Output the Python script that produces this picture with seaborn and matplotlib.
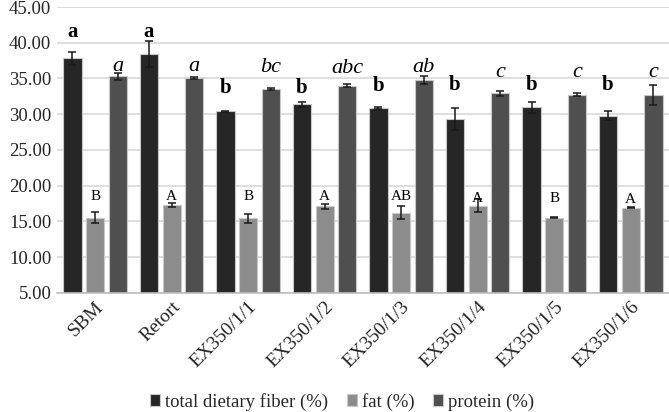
import matplotlib
matplotlib.use("Agg")
import matplotlib.pyplot as plt
from matplotlib import font_manager
import seaborn as sns
import pandas as pd

samples = ["SBM", "Retort", "EX350/1/1", "EX350/1/2", "EX350/1/3",
           "EX350/1/4", "EX350/1/5", "EX350/1/6"]
series = ["total dietary fiber (%)", "fat (%)", "protein (%)"]

fiber = [37.8, 38.45, 30.4, 31.4, 30.85, 29.35, 30.95, 29.8]
fiber_err = [0.9, 1.85, 0.1, 0.35, 0.1, 1.55, 0.8, 0.6]
fat = [15.55, 17.3, 15.45, 17.1, 16.2, 17.2, 15.55, 16.95]
fat_err = [0.8, 0.3, 0.6, 0.3, 0.9, 0.9, 0.05, 0.12]
protein = [35.3, 35.05, 33.55, 34.0, 34.75, 32.9, 32.7, 32.7]
protein_err = [0.5, 0.15, 0.1, 0.2, 0.55, 0.35, 0.2, 1.4]

fiber_letters = ["a", "a", "b", "b", "b", "b", "b", "b"]
fat_letters = ["B", "A", "B", "A", "AB", "A", "B", "A"]
protein_letters = ["a", "a", "bc", "abc", "ab", "c", "c", "c"]

# heights where the letters sit (data units)
fiber_lab_y = [41.45, 41.45, 33.6, 33.6, 33.9, 34.15, 34.15, 34.15]
fat_lab_y = [18.45, 18.5, 18.45, 18.5, 18.45, 18.2, 18.2, 18.05]
protein_lab_y = [36.7, 36.7, 36.5, 36.35, 36.6, 35.9, 35.9, 35.9]

df = pd.DataFrame({
    "sample": samples * 3,
    "series": [series[0]] * 8 + [series[1]] * 8 + [series[2]] * 8,
    "value": fiber + fat + protein,
})

sns.set_style("white")
names = sorted({f.name for f in font_manager.fontManager.ttflist})
serif = [n for n in names if "Serif" in n and "Liberation" in n] or ["DejaVu Serif"]
plt.rcParams["font.serif"] = serif + ["DejaVu Serif"]
plt.rcParams["font.family"] = "serif"

fig = plt.figure(figsize=(6.69, 4.12), dpi=100)
ax = fig.add_axes([0.085, 0.289, 0.915, 0.694])

colors = ["#262626", "#8c8c8c", "#4f4f4f"]
sns.barplot(data=df, x="sample", y="value", hue="series", palette=colors,
            errorbar=None, width=0.89, gap=0.2, edgecolor="#c8c8c8",
            linewidth=0.8, saturation=1, ax=ax, zorder=2)

errs = [fiber_err, fat_err, protein_err]
vals = [fiber, fat, protein]
letters = [fiber_letters, fat_letters, protein_letters]
lab_y = [fiber_lab_y, fat_lab_y, protein_lab_y]
styles = [dict(fontsize=15, fontweight="bold"),
          dict(fontsize=11),
          dict(fontsize=16, fontstyle="italic")]

bar_groups = list(ax.containers)
for k, cont in enumerate(bar_groups):
    xs = [p.get_x() + p.get_width() / 2 for p in cont.patches]
    ax.errorbar(xs, vals[k], yerr=errs[k], fmt="none", ecolor="#1a1a1a",
                elinewidth=1.1, capsize=3, capthick=1.1, zorder=3)
    for x, y, t in zip(xs, lab_y[k], letters[k]):
        ax.text(x, y, t, ha="center", va="center", color="black", **styles[k])

ax.set_ylim(5, 45)
ax.set_xlim(-0.5, 7.5)
ax.set_yticks(range(5, 46, 5))
ax.set_yticklabels([f"{v:.2f}" for v in range(5, 46, 5)], fontsize=13.5)
ax.set_xticks(range(len(samples)))
ax.set_xticklabels(samples, rotation=45, ha="right", rotation_mode="anchor",
                   fontsize=14)
ax.tick_params(axis="both", length=0, pad=4)
ax.yaxis.grid(True, color="#d4d4d4", linewidth=1.1, zorder=0)
ax.set_axisbelow(True)
for s in ["top", "right", "left"]:
    ax.spines[s].set_visible(False)
ax.spines["bottom"].set_color("#bdbdbd")
ax.spines["bottom"].set_linewidth(1.2)
ax.set_xlabel("")
ax.set_ylabel("")

ax.legend(handles=bar_groups, labels=series, loc="lower center",
          bbox_to_anchor=(0.466, -0.425), ncol=3, borderpad=0.2,
          frameon=False, fontsize=13.5, handlelength=0.55, handleheight=0.55,
          handletextpad=0.25, columnspacing=1.0, borderaxespad=0)

fig.savefig("out.png", dpi=100)
